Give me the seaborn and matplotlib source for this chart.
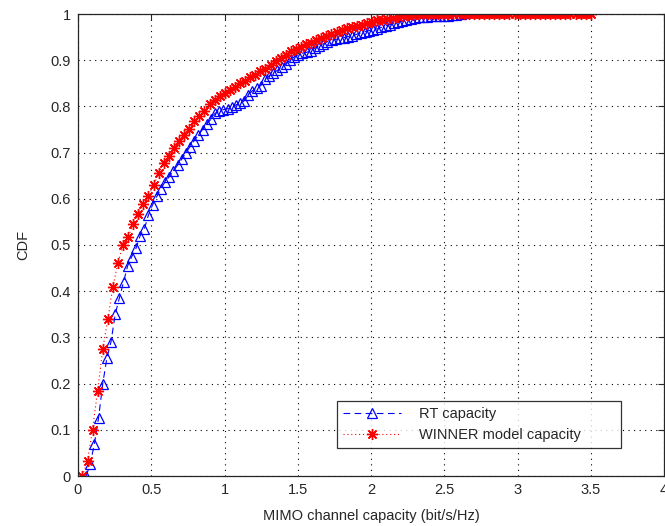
import numpy as np
import pandas as pd
import matplotlib
matplotlib.use("Agg")
import matplotlib.pyplot as plt
import seaborn as sns

# ---- data ----
rt_x = [0.055, 0.083, 0.112, 0.140, 0.169, 0.197, 0.225, 0.254, 0.282, 0.311,
        0.339, 0.367, 0.396, 0.424, 0.453, 0.481, 0.509, 0.538, 0.566, 0.595,
        0.623, 0.651, 0.680, 0.708, 0.737, 0.765, 0.793, 0.822, 0.850, 0.879,
        0.907, 0.935, 0.964, 0.992, 1.021, 1.049, 1.077, 1.106, 1.134, 1.163,
        1.191, 1.219, 1.248, 1.276, 1.305, 1.333, 1.361, 1.390, 1.418, 1.447,
        1.475, 1.503, 1.532, 1.560, 1.589, 1.617, 1.645, 1.674, 1.702, 1.731,
        1.759, 1.787, 1.816, 1.844, 1.873, 1.901, 1.929, 1.958, 1.986, 2.015,
        2.043, 2.071, 2.100, 2.128, 2.157, 2.185, 2.213, 2.242, 2.270, 2.299,
        2.327, 2.355, 2.384, 2.412, 2.441, 2.469, 2.497, 2.526, 2.554, 2.583,
        2.611, 2.639, 2.668, 2.696, 2.725, 2.753, 2.781, 2.810, 2.838, 2.866]
rt_cdf = [0.000, 0.025, 0.070, 0.125, 0.200, 0.255, 0.290, 0.350, 0.385, 0.420,
          0.455, 0.475, 0.493, 0.520, 0.535, 0.565, 0.587, 0.605, 0.622, 0.637,
          0.648, 0.660, 0.673, 0.686, 0.700, 0.713, 0.726, 0.738, 0.750, 0.762,
          0.772, 0.785, 0.790, 0.793, 0.795, 0.798, 0.803, 0.807, 0.812, 0.825,
          0.834, 0.840, 0.845, 0.860, 0.866, 0.872, 0.878, 0.885, 0.892, 0.900,
          0.907, 0.912, 0.915, 0.917, 0.920, 0.926, 0.931, 0.935, 0.940, 0.943,
          0.945, 0.947, 0.949, 0.951, 0.953, 0.956, 0.959, 0.962, 0.964, 0.966,
          0.968, 0.971, 0.974, 0.977, 0.980, 0.983, 0.985, 0.987, 0.989, 0.991,
          0.993, 0.994, 0.994, 0.995, 0.995, 0.995, 0.996, 0.996, 0.997, 0.998,
          1.000, 1.003, 1.006, 1.008, 1.008, 1.009, 1.010, 1.010, 1.010, 1.010]

winner_x = [0.030, 0.065, 0.099, 0.134, 0.169, 0.204, 0.238, 0.273, 0.308, 0.342,
            0.377, 0.412, 0.446, 0.481, 0.516, 0.551, 0.585, 0.620, 0.655, 0.689,
            0.724, 0.759, 0.793, 0.828, 0.863, 0.898, 0.932, 0.967, 1.002, 1.036,
            1.071, 1.106, 1.140, 1.175, 1.210, 1.245, 1.279, 1.314, 1.349, 1.383,
            1.418, 1.453, 1.487, 1.522, 1.557, 1.592, 1.626, 1.661, 1.696, 1.730,
            1.765, 1.800, 1.834, 1.869, 1.904, 1.939, 1.973, 2.008, 2.043, 2.077,
            2.112, 2.147, 2.181, 2.216, 2.251, 2.286, 2.320, 2.355, 2.390, 2.424,
            2.459, 2.494, 2.528, 2.563, 2.598, 2.633, 2.667, 2.702, 2.737, 2.771,
            2.806, 2.841, 2.875, 2.910, 2.945, 2.980, 3.014, 3.049, 3.084, 3.118,
            3.153, 3.188, 3.222, 3.257, 3.292, 3.327, 3.361, 3.396, 3.431, 3.465,
            3.500]
winner_cdf = [0.000, 0.033, 0.100, 0.185, 0.275, 0.340, 0.410, 0.462, 0.500, 0.517,
              0.546, 0.568, 0.588, 0.605, 0.630, 0.655, 0.677, 0.692, 0.710, 0.725,
              0.739, 0.752, 0.768, 0.779, 0.791, 0.805, 0.814, 0.823, 0.830, 0.836,
              0.843, 0.850, 0.856, 0.863, 0.869, 0.876, 0.882, 0.889, 0.898, 0.904,
              0.912, 0.919, 0.925, 0.929, 0.934, 0.938, 0.943, 0.948, 0.952, 0.957,
              0.961, 0.965, 0.969, 0.972, 0.975, 0.977, 0.980, 0.983, 0.986, 0.988,
              0.990, 0.992, 0.994, 0.995, 0.997, 0.998, 0.999, 1.000, 1.000, 1.000,
              1.000, 1.000, 1.000, 1.000, 1.000, 1.000, 1.000, 1.000, 1.000, 1.000,
              1.000, 1.000, 1.000, 1.000, 1.000, 1.000, 1.000, 1.000, 1.000, 1.000,
              1.000, 1.000, 1.000, 1.000, 1.000, 1.000, 1.000, 1.000, 1.000, 1.000,
              1.000]

x_ticks = [0, 0.5, 1, 1.5, 2, 2.5, 3, 3.5, 4]
x_tick_labels = ["0", "0.5", "1", "1.5", "2", "2.5", "3", "3.5", "4"]
y_ticks = [0, 0.1, 0.2, 0.3, 0.4, 0.5, 0.6, 0.7, 0.8, 0.9, 1]
y_tick_labels = ["0", "0.1", "0.2", "0.3", "0.4", "0.5", "0.6", "0.7", "0.8", "0.9", "1"]

rt_df = pd.DataFrame({"capacity": rt_x, "cdf": rt_cdf})
winner_df = pd.DataFrame({"capacity": winner_x, "cdf": winner_cdf})

# ---- styling ----
sns.set_style("white")
plt.rcParams["font.family"] = ["Liberation Sans", "DejaVu Sans"]
plt.rcParams["font.size"] = 10

fig = plt.figure(figsize=(6.65, 5.26), dpi=100)
ax = fig.add_axes([78 / 665, 50 / 526, 586 / 665, 462 / 526])

sns.lineplot(data=rt_df, x="capacity", y="cdf", ax=ax, sort=False, estimator=None,
             color="#0000ff", linestyle=(0, (6, 4)), linewidth=0.8,
             marker="^", markersize=7.5, markerfacecolor="none",
             markeredgecolor="#0000ff", markeredgewidth=0.9,
             label="RT capacity")
sns.lineplot(data=winner_df, x="capacity", y="cdf", ax=ax, sort=False, estimator=None,
             color="#ff0000", linestyle=(0, (1, 2.5)), linewidth=0.8,
             marker=(8, 2, 0), markersize=8,
             markeredgecolor="#ff0000", markeredgewidth=1.0,
             label="WINNER model capacity")

ax.set_xlim(0, 4)
ax.set_ylim(0, 1)
ax.set_xticks(x_ticks)
ax.set_xticklabels(x_tick_labels)
ax.set_yticks(y_ticks)
ax.set_yticklabels(y_tick_labels)
ax.tick_params(direction="in", length=4, width=0.8, top=True, right=True,
               labelsize=10.5, colors="#262626", pad=5)
ax.grid(True, color="black", linestyle=(0, (1, 4)), linewidth=0.8)
for s in ax.spines.values():
    s.set_color("#262626")
    s.set_linewidth(0.9)

ax.set_xlabel("MIMO channel capacity (bit/s/Hz)", fontsize=10.5, color="#262626", labelpad=9)
ax.set_ylabel("CDF", fontsize=10.5, color="#262626", labelpad=15)

leg = ax.legend(loc="lower left", bbox_to_anchor=(0.442, 0.061, 0.485, 0.121),
                mode="expand", fontsize=10.5, frameon=True, fancybox=False,
                edgecolor="black", handlelength=4, borderaxespad=0,
                labelspacing=0.5, handletextpad=1.2)
leg.get_frame().set_linewidth(0.9)
for t in leg.get_texts():
    t.set_color("#262626")

fig.savefig("out.png", dpi=100)
